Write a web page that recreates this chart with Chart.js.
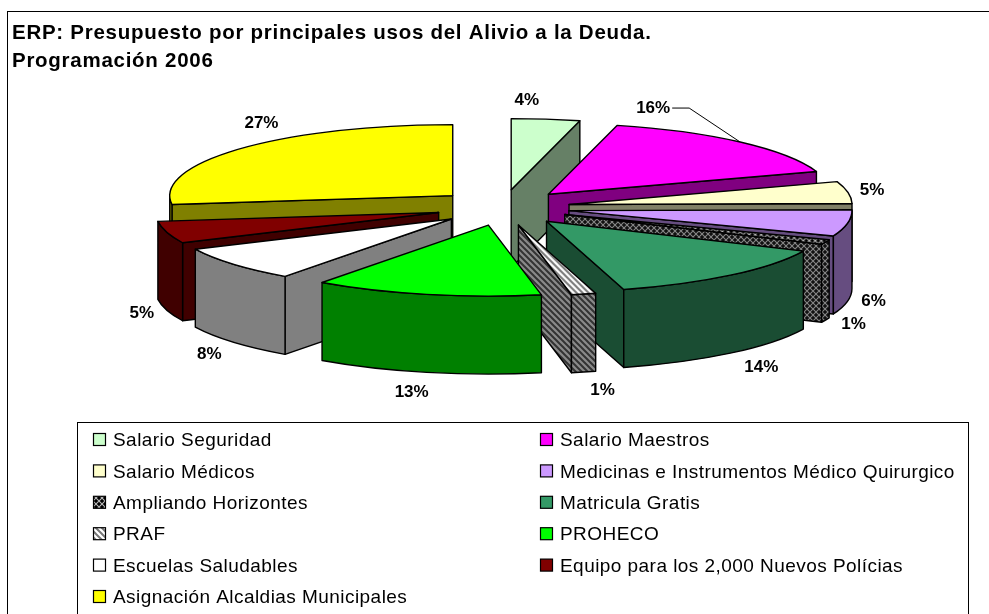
<!DOCTYPE html>
<html><head><meta charset="utf-8">
<style>html,body{margin:0;padding:0;background:#fff;overflow:hidden}canvas{display:block}</style>
<script src="https://cdn.jsdelivr.net/npm/chart.js@4"></script>
</head><body><canvas id="c" width="989" height="614"></canvas>
<script>
const categories = ["Salario Seguridad","Salario Maestros","Salario Médicos","Medicinas e Instrumentos Médico Quirurgico","Ampliando Horizontes","Matricula Gratis","PRAF","PROHECO","Escuelas Saludables","Equipo para los 2,000 Nuevos Polícias","Asignación Alcaldias Municipales"];
const shares = [3.9,15.9,5,6,1.1,13.7,1.4,13,8,5,27];
const titleLines = ["ERP: Presupuesto por principales usos del Alivio a la Deuda.","Programación 2006"];
const faceColors = ["#CCFFCC","#FF00FF","#FFFFCC","#CC99FF","hatch","#339966","stripe","#00FF00","#FFFFFF","#800000","#FFFF00"];
const labelNudgeX = [-19,-87,24,26,28,31,19,-15,-24,-25,21];
const labelNudgeY = [-19,-34,-2,78,82,92,96,98,90,81,-25];

// projection of the flat pie
const view = {cx:503, cy:207.5, rx:283, ry:71, ex:67, ey:18, depth:78};
const FONT = '"Liberation Sans", Arial, sans-serif';

function tile(size, paint){
  const c=document.createElement('canvas'); c.width=c.height=size;
  paint(c.getContext('2d'),size); return c;
}
function hatchTile(bg,fg){ return tile(6,(g,s)=>{
  g.fillStyle=bg; g.fillRect(0,0,s,s); g.strokeStyle=fg; g.lineWidth=1.1;
  g.beginPath(); g.moveTo(0,0); g.lineTo(s,s); g.moveTo(s,0); g.lineTo(0,s); g.stroke();
});}
function stripeTile(bg,fg){ return tile(6,(g,s)=>{
  g.fillStyle=bg; g.fillRect(0,0,s,s); g.strokeStyle=fg; g.lineWidth=2;
  g.beginPath(); g.moveTo(-s,0); g.lineTo(2*s,3*s); g.moveTo(0,-s); g.lineTo(3*s,2*s); g.moveTo(-s,-s); g.lineTo(s*2,s*2);
  g.stroke();
});}
const ctx0=document.getElementById('c').getContext('2d');
const pats={
  hatch:ctx0.createPattern(hatchTile('#000','#bbb'),'repeat'),
  stripe:ctx0.createPattern(stripeTile('#fff','#777'),'repeat'),
  hatchSide:ctx0.createPattern(hatchTile('#111','#888'),'repeat'),
  stripeSide:ctx0.createPattern(stripeTile('#8a8a8a','#333'),'repeat')
};
const fills=faceColors.map(c=>pats[c]||c);
function shade(c){
  if(c==='hatch')return pats.hatchSide; if(c==='stripe')return pats.stripeSide;
  const n=parseInt(c.slice(1),16);
  const h=v=>Math.round(v/2).toString(16).padStart(2,'0');
  return '#'+h(n>>16)+h((n>>8)&255)+h(n&255);
}
const sides=faceColors.map(shade);

const pie3d={
  id:'pie3d',
  beforeDraw(chart){
    const c=chart.ctx; c.save(); c.fillStyle='#fff'; c.fillRect(0,0,chart.width,chart.height); c.restore();
    c.letterSpacing='0.73px';
    // outer frame runs past the right and bottom of the picture
    c.save(); c.strokeStyle='#000'; c.lineWidth=1; c.strokeRect(7.5,11.5,1100,800); c.restore();
  },
  beforeDatasetsDraw(chart){
    const c=chart.ctx, v=view, arcs=chart.getDatasetMeta(0).data;
    c.letterSpacing='0px';
    const parts=arcs.map((arc,i)=>{
      const mid=(arc.startAngle+arc.endAngle)/2;
      return {arc,i,mid,x:v.cx+v.ex*Math.cos(mid),y:v.cy+v.ey*Math.sin(mid)};
    });
    const order=parts.slice().sort((a,b)=>Math.round(Math.sin(a.mid)*100)-Math.round(Math.sin(b.mid)*100)||a.i-b.i);
    c.save();
    c.strokeStyle='#000'; c.lineWidth=1.4; c.lineJoin='round';
    // leader line of the 16% label
    leader(c,parts[1]);
    // side walls, back to front
    for(const p of order){
      const a=p.arc.startAngle,b=p.arc.endAngle;
      c.fillStyle=sides[p.i];
      const wall=t=>{
        const X=p.x+v.rx*Math.cos(t),Y=p.y+v.ry*Math.sin(t);
        c.beginPath(); c.moveTo(p.x,p.y); c.lineTo(X,Y); c.lineTo(X,Y+v.depth); c.lineTo(p.x,p.y+v.depth); c.closePath(); c.fill(); c.stroke();
      };
      if(Math.sin(a-Math.PI/2)>0) wall(a);
      if(Math.sin(b+Math.PI/2)>0) wall(b);
      const s=Math.max(a,0),e=Math.min(b,Math.PI);
      if(e>s){
        c.beginPath();
        c.ellipse(p.x,p.y,v.rx,v.ry,0,s,e);
        c.ellipse(p.x,p.y+v.depth,v.rx,v.ry,0,e,s,true);
        c.closePath(); c.fill(); c.stroke();
      }
    }
    // top faces: drawn by the library's arc elements under the projection
    for(const p of order){
      const R=p.arc.outerRadius, sx=v.rx/R, sy=v.ry/R;
      const inv=new DOMMatrix().scale(1/sx,1/sy);
      pats.hatch.setTransform(inv); pats.stripe.setTransform(inv);
      c.save();
      c.translate(p.x,p.y); c.scale(sx,sy); c.translate(-p.arc.x,-p.arc.y);
      p.arc.draw(c);
      c.restore();
      pats.hatch.setTransform(new DOMMatrix()); pats.stripe.setTransform(new DOMMatrix());
      c.beginPath(); c.moveTo(p.x,p.y);
      c.ellipse(p.x,p.y,v.rx,v.ry,0,p.arc.startAngle,p.arc.endAngle);
      c.closePath(); c.stroke();
    }
    c.restore();
    // percent labels
    c.save();
    c.font='bold 17px '+FONT; c.fillStyle='#000'; c.textAlign='center'; c.textBaseline='middle';
    parts.forEach(p=>{
      const X=v.cx+(v.ex+v.rx)*Math.cos(p.mid), Y=v.cy+(v.ey+v.ry)*Math.sin(p.mid);
      c.fillText(Math.round(shares[p.i])+'%',X+labelNudgeX[p.i],Y+labelNudgeY[p.i]);
    });
    c.restore();
    drawLegend(chart);
    return false;
  }
};
function leader(c,p){
  const v=view;
  const X=v.cx+(v.ex+v.rx)*Math.cos(p.mid), Y=v.cy+(v.ey+v.ry)*Math.sin(p.mid);
  const lx=X+labelNudgeX[p.i]+19, ly=Y+labelNudgeY[p.i];
  c.save(); c.lineWidth=1; c.beginPath(); c.moveTo(lx,ly); c.lineTo(lx+17,ly); c.lineTo(X,Y); c.stroke(); c.restore();
}
function drawLegend(chart){
  const c=chart.ctx;
  c.save();
  c.strokeStyle='#000'; c.lineWidth=1;
  c.strokeRect(77.5,422.5,891,260);
  c.font='19px '+FONT; c.textBaseline='middle'; c.textAlign='left'; c.letterSpacing='0.45px';
  const colX=[93,540], rowH=31.4;
  categories.forEach((t,i)=>{
    const col=i%2,row=Math.floor(i/2),x=colX[col],y=440+row*rowH;
    c.fillStyle=fills[i]; c.fillRect(x+.5,y-6.5,12,12);
    c.strokeStyle='#000'; c.lineWidth=1.2; c.strokeRect(x+.5,y-6.5,12,12);
    c.fillStyle='#000'; c.fillText(t,x+20,y+1);
  });
  c.restore();
}
new Chart(document.getElementById('c'),{
  type:'pie',
  data:{labels:categories,datasets:[{data:shares,backgroundColor:fills,borderWidth:0,hoverOffset:0,clip:false}]},
  options:{
    responsive:false,animation:false,events:[],
    layout:{padding:{left:12,top:0,right:0,bottom:0}},
    plugins:{
      legend:{display:false},tooltip:{enabled:false},
      title:{display:true,text:titleLines,align:'start',color:'#000',
        font:{family:FONT,size:20.5,weight:'bold',lineHeight:1.366},
        padding:{top:19,bottom:10}}
    }
  },
  plugins:[pie3d]
});
</script></body></html>
